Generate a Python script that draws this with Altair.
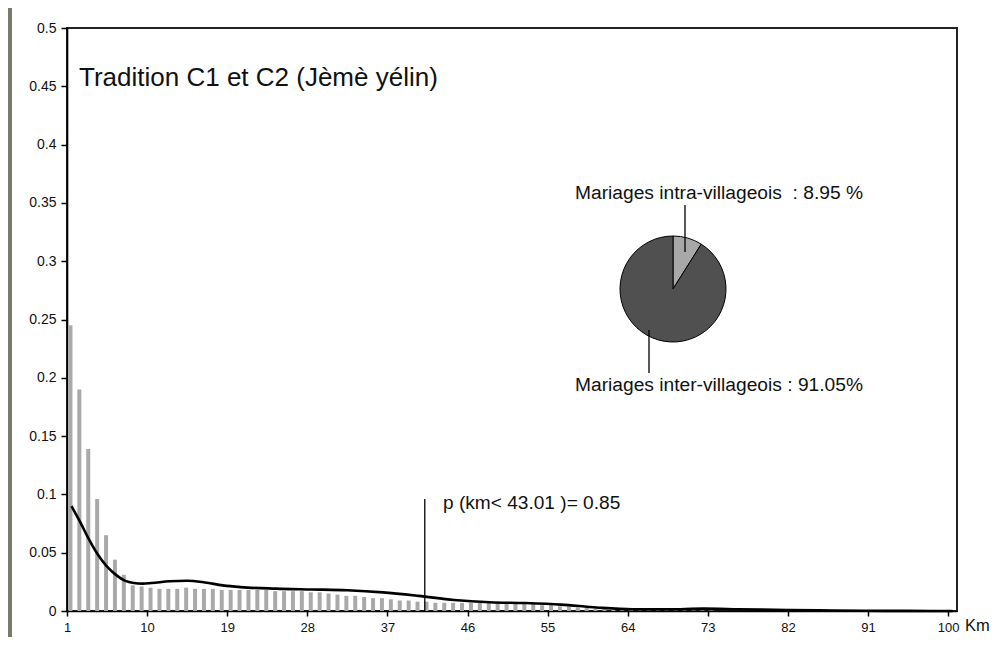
import altair as alt
import pandas as pd

# ---------------- data ----------------
km = list(range(1, 101))
share = [0.245, 0.190, 0.139, 0.096, 0.065, 0.044, 0.031, 0.022, 0.021, 0.020,
         0.019, 0.019, 0.019, 0.020, 0.019, 0.019, 0.019, 0.018, 0.018, 0.018,
         0.018, 0.018, 0.018, 0.017, 0.017, 0.017, 0.017, 0.016, 0.016, 0.015,
         0.014, 0.013, 0.013, 0.012, 0.011, 0.011, 0.010, 0.009, 0.009, 0.008,
         0.008, 0.007, 0.007, 0.007, 0.007, 0.007, 0.007, 0.007, 0.007, 0.006,
         0.006, 0.006, 0.006, 0.005, 0.005, 0.004, 0.004, 0.003, 0.003, 0.002,
         0.002, 0.001, 0.001, 0.001, 0.0005, 0.0005, 0.0005, 0.0005, 0.0005, 0.0005,
         0.0005, 0.0005, 0.0005, 0, 0, 0, 0, 0, 0, 0,
         0, 0, 0, 0, 0, 0, 0, 0, 0, 0,
         0, 0, 0, 0, 0, 0, 0, 0, 0, 0]

curve_km = [1, 2, 3, 4, 5, 6, 7, 8, 9, 10, 12, 14, 16, 18, 20, 24, 28, 32, 36, 40,
            44, 48, 52, 56, 60, 64, 68, 72, 76, 80, 85, 90, 95, 100]
curve_val = [0.090, 0.076, 0.061, 0.048, 0.038, 0.031, 0.026, 0.024, 0.0235, 0.024,
             0.0255, 0.026, 0.0245, 0.022, 0.0205, 0.0192, 0.0185, 0.0178, 0.016, 0.013,
             0.0095, 0.0075, 0.0068, 0.0055, 0.003, 0.0015, 0.0015, 0.002, 0.0015, 0.001,
             0.0005, 0.0002, 0.0001, 0.0]

pie_parts = ["Mariages intra-villageois", "Mariages inter-villageois"]
pie_pct = [8.95, 91.05]
pie_order = [1, 2]

x_ticks = [1, 10, 19, 28, 37, 46, 55, 64, 73, 82, 91, 100]
y_ticks = [0, 0.05, 0.1, 0.15, 0.2, 0.25, 0.3, 0.35, 0.4, 0.45, 0.5]

p_km = [40.7]
p_top = [0.096]

title_txt = "Tradition C1 et C2 (Jèmè yélin)"
intra_txt = "Mariages intra-villageois\u00a0 : 8.95 %"
inter_txt = "Mariages inter-villageois : 91.05%"
p_txt = "p (km< 43.01 )= 0.85"
unit_txt = "Km"

# ---------------- tables ----------------
bars_df = pd.DataFrame({"km": km, "share": share})
curve_df = pd.DataFrame({"km": curve_km, "val": curve_val})
pie_df = pd.DataFrame({"part": pie_parts, "pct": pie_pct, "ord": pie_order})
p_df = pd.DataFrame({"km": p_km, "y0": [0.0], "y1": p_top})
one = pd.DataFrame({"a": [0]})

W, H = 890, 583
FONT = "Liberation Sans"

xscale = alt.Scale(domain=[0.5, 100.5], nice=False, zero=False, padding=0)
yscale = alt.Scale(domain=[0, 0.5], nice=False, padding=0)

strip = alt.Chart(one).mark_rect(color="#79796d").encode(
    x=alt.value(-59), x2=alt.value(-55), y=alt.value(-25), y2=alt.value(H + 40)
)

bars = alt.Chart(bars_df).mark_bar(color="#a9a9a9", size=4, xOffset=-1).encode(
    x=alt.X("km:Q", scale=xscale,
            axis=alt.Axis(values=x_ticks, title=None, grid=False, tickOffset=-4.45,
                          labelFontSize=13, tickSize=5, labelPadding=5, labelFlush=False)),
    y=alt.Y("share:Q", scale=yscale,
            axis=alt.Axis(values=y_ticks, title=None, grid=False, format=".2~f",
                          labelFontSize=14, tickSize=6, labelPadding=5)),
)

curve = alt.Chart(curve_df).mark_line(color="black", strokeWidth=2.6, interpolate="monotone").encode(
    x="km:Q", y="val:Q"
)

prule = alt.Chart(p_df).mark_rule(color="black", strokeWidth=1.3).encode(
    x="km:Q", y="y0:Q", y2="y1:Q"
)

pie = alt.Chart(pie_df).mark_arc(outerRadius=53, stroke="black", strokeWidth=1).encode(
    theta=alt.Theta("pct:Q", stack=True),
    color=alt.Color("part:N", scale=alt.Scale(domain=pie_parts, range=["#a8a8a8", "#505050"]), legend=None),
    order=alt.Order("ord:Q"),
    x=alt.value(606), y=alt.value(261),
)


def label(txt, px, py, fs):
    return alt.Chart(pd.DataFrame({"t": [txt]})).mark_text(
        align="left", baseline="middle", font=FONT, fontSize=fs, color="#111111"
    ).encode(text="t:N", x=alt.value(px), y=alt.value(py))


def leader(px, py1, py2):
    return alt.Chart(one).mark_rule(color="black", strokeWidth=1.3).encode(
        x=alt.value(px), y=alt.value(py1), y2=alt.value(py2)
    )


chart = alt.layer(
    strip, bars, curve, prule, pie,
    leader(618, 177, 224), leader(582, 302, 345),
    label(title_txt, 12, 50, 26),
    label(intra_txt, 508, 165, 19.2),
    label(inter_txt, 508, 357, 19.2),
    label(p_txt, 376, 475, 19.1),
    label(unit_txt, 898, 598, 16.5),
).properties(
    width=W, height=H,
    autosize=alt.AutoSizeParams(type="none"),
    padding={"left": 59, "top": 20, "right": 36, "bottom": 26},
    background="white",
).configure_view(
    stroke="#222222", strokeWidth=2
).configure_axis(
    domainColor="black", domainWidth=1.6, tickColor="black", tickWidth=1.5,
    labelColor="#111111", labelFont=FONT
)

chart.save("out.html", embed_options={"renderer": "svg", "actions": False})
